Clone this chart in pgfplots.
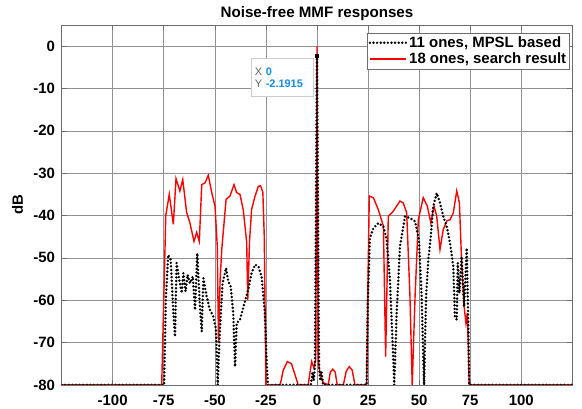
\documentclass[border=0pt]{standalone}
\usepackage{pgfplots}
\pgfplotsset{compat=1.18}
\usepackage{fontspec}
\setmainfont{Liberation Sans}
\definecolor{tipblue}{RGB}{20,140,230}
\definecolor{tipgray}{RGB}{100,100,100}
\definecolor{axgray}{RGB}{110,110,110}
\definecolor{gridgray}{RGB}{145,145,145}
\begin{document}
\begin{tikzpicture}
\useasboundingbox (-61.6bp,-24bp) rectangle (520.6bp,385bp);
\begin{axis}[
  at={(0,0)}, anchor=south west,
  scale only axis, width=511bp, height=360bp,
  xmin=-125, xmax=125, ymin=-80, ymax=5,
  xtick={-125,-100,-75,-50,-25,0,25,50,75,100,125},
  xticklabels={,-100,-75,-50,-25,0,25,50,75,100,},
  ytick={-80,-70,-60,-50,-40,-30,-20,-10,0},
  yticklabels={-80,-70,-60,-50,-40,-30,-20,-10,0},
  grid=major,
  major grid style={gridgray, line width=0.6bp},
  axis line style={axgray, line width=0.7bp},
  tick style={axgray, line width=0.6bp},
  major tick length=5bp,
  tick label style={font=\bfseries\fontsize{15}{17}\selectfont},
  xticklabel style={anchor=base, yshift=-21bp, inner sep=0pt},
  yticklabel style={anchor=east, inner sep=0pt, xshift=-6.5bp},
  title={Noise-free MMF responses},
  title style={font=\bfseries\fontsize{15.2}{17}\selectfont, at={(0.5,1)}, anchor=base, yshift=1.5bp, inner sep=0pt},
  ylabel={dB},
  ylabel style={font=\bfseries\fontsize{15}{17}\selectfont, at={(axis description cs:-0.0863,0.5)}, anchor=center},
  legend style={at={(0.995,0.978)}, anchor=north east, draw=axgray, fill=white,
    font=\bfseries\fontsize{15}{17}\selectfont, inner sep=1.5bp, cells={anchor=west}},
  legend image code/.code={\draw[#1] (0bp,0bp) -- (36bp,0bp);},
]
\addlegendimage{black, line width=2.7bp, line cap=round, dash pattern=on 0bp off 3.6bp}
\addlegendentry{11 ones, MPSL based}
\addlegendimage{red, line width=1.4bp}
\addlegendentry{18 ones, search result}

% 18 ones, search result (red)
\addplot[red, line width=1.4bp, forget plot] coordinates {
(-125,-80) (-76,-80) (-75,-60) (-74,-40) (-72.3,-35) (-70.3,-42.1) (-69,-31.3)
(-67.1,-34.2) (-65.7,-31.5) (-63.8,-39.3) (-62.2,-41.7) (-61.3,-43.7) (-60.2,-46.1)
(-58.9,-44) (-57.6,-46.1) (-56.4,-32.7) (-54.8,-32.3) (-53.2,-30.5) (-51.5,-34.6)
(-49.9,-37.8) (-48.8,-47.3) (-48.2,-70) (-47.4,-55) (-46.6,-48) (-44.5,-36.2)
(-42.6,-35.4) (-40.6,-32.7) (-39.3,-34.6) (-37.7,-35) (-36.1,-38.6) (-34.4,-46.4)
(-33.9,-60) (-33,-46) (-32,-38.6) (-30.3,-35.4) (-28.7,-33.1) (-27.6,-33)
(-26.5,-34.5) (-25.8,-45) (-25,-80) (-18,-80) (-16.5,-76.5) (-14.5,-74.5)
(-12.5,-75) (-10.5,-78) (-9.2,-80) (-4.3,-80) (-3.4,-77) (-2.6,-74.5) (-1.5,-76)
(-0.6,-74) (0,0) (0.6,-74) (1.2,-76.5) (2.2,-78.5) (3.1,-79.5) (5.5,-80)
(6.5,-77) (7.7,-76.3) (8.9,-77) (9.9,-80) (12.9,-80) (14.3,-76.8) (15.8,-75.7)
(17.2,-76.5) (18.6,-80) (24.3,-80) (24.8,-60) (25.6,-35.4) (27.6,-35.8) (30,-38.6)
(32.5,-42.5) (33.6,-73.3) (34.9,-40.2) (37.3,-39) (40.6,-36.6) (42.2,-37)
(43.9,-39.4) (45.5,-59.1) (46.6,-80) (48,-59.1) (49.6,-41) (52,-35.8) (54,-37.8)
(55.7,-41.7) (57.3,-37.8) (58.6,-40.2) (60.2,-48) (61.8,-43.3) (63.5,-41.3)
(65.1,-41) (66.7,-39.4) (68.4,-34.2) (69.7,-37) (70.8,-51.2) (72,-61.5)
(72.9,-65.4) (73.6,-63) (74.5,-80) (125,-80)
};

% 11 ones, MPSL based (black dotted)
\addplot[black, line width=2.7bp, line cap=round, dash pattern=on 0bp off 3.6bp, forget plot] coordinates {
(-125,-80) (-74.8,-80) (-74,-60) (-72.8,-49.3) (-71.6,-50.4) (-70.3,-63) (-69.5,-68.6)
(-68.7,-51.2) (-67.4,-55.2) (-66.2,-58.3) (-65.4,-53.6) (-64.3,-57.9) (-63.3,-54)
(-62.2,-56) (-60.8,-54.4) (-59.7,-62.3) (-58.6,-48.9) (-57.3,-61.5) (-56.4,-67.4)
(-55.6,-54.8) (-54,-59.1) (-52.4,-62.3) (-50.8,-63.8) (-49.4,-67) (-48.6,-80)
(-47.5,-67) (-46.2,-56) (-44.5,-52.4) (-43.4,-55.6) (-42.2,-56.8) (-41,-63)
(-40.1,-75.7) (-39.3,-65.4) (-37.7,-64.6) (-36.4,-62.3) (-34.8,-59.5) (-33.6,-57.5)
(-32,-53.6) (-30.3,-51.6) (-28.7,-52) (-27.1,-54.4) (-25.5,-63) (-24.6,-74.9)
(-24,-80) (-3,-80) (-2.2,-77) (-1.6,-79) (-1,-75.5) (0,-2.1915) (1,-75.5)
(1.6,-79) (2.2,-77) (3,-80) (24.3,-80) (24.9,-60) (25.9,-45.3) (27.6,-43)
(30,-41.8) (32.5,-42.6) (34.1,-45.7) (35.7,-55.2) (37.1,-70.9) (37.8,-80) (39,-63)
(40.6,-47.3) (43.1,-40.2) (45.5,-40.6) (48,-41.4) (49.9,-45.7) (51.2,-59.1)
(52.4,-80) (53.4,-59.1) (54.5,-50.4) (55.7,-44.9) (56.9,-37.8) (58.6,-34.7)
(60.2,-37) (61.8,-40.2) (63.5,-42.6) (65.1,-46.5) (66.7,-52) (67.5,-63.8)
(68.4,-64.6) (68.9,-51.2) (69.7,-58.3) (70.8,-49.7) (72,-61.5) (73.3,-47.7)
(74.1,-67) (74.5,-80) (125,-80)
};

% data tip marker
\addplot[only marks, mark=square*, mark size=1.6bp, black, forget plot] coordinates {(0,-2.1915)};

\node[draw=gray!40, fill=white, anchor=north east, inner xsep=4bp, text width=54bp,
  minimum height=38bp, align=left, font=\fontsize{11}{12.6}\selectfont]
  at ([xshift=-4bp,yshift=-3bp]axis cs:0,-2.1915)
  {\textcolor{tipgray}{X} \textcolor{tipblue}{\bfseries 0}\\\textcolor{tipgray}{Y} \textcolor{tipblue}{\bfseries -2.1915}};
\end{axis}
\end{tikzpicture}
\end{document}
